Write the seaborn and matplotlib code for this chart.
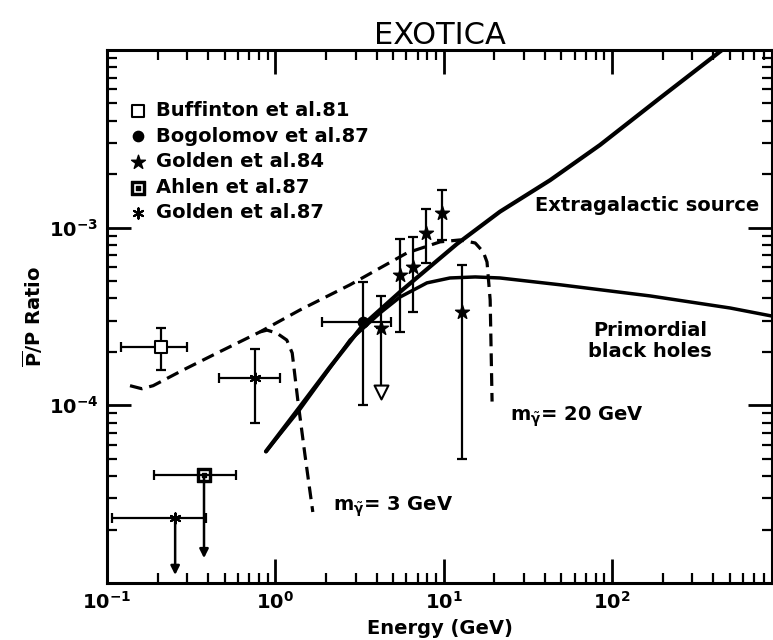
import numpy as np
import matplotlib
matplotlib.use("Agg")
import matplotlib.pyplot as plt
import seaborn as sns
from matplotlib.ticker import LogLocator, FuncFormatter, NullFormatter

# --- curves: energy (GeV) vs pbar/p ratio ---
egal_e = [0.88, 1.40, 2.11, 3.32, 5.51, 12.0, 21.6, 42.9, 84.9, 193, 451]
egal_r = [5.5e-5, 9.8e-5, 1.64e-4, 2.83e-4, 4.35e-4, 8.1e-4, 1.23e-3, 1.85e-3, 2.92e-3, 5.37e-3, 1.0e-2]

pbh_e = [0.88, 1.40, 2.78, 4.19, 5.51, 7.96, 10.9, 15.4, 21.6, 49.2, 168, 504, 893]
pbh_r = [5.5e-5, 9.5e-5, 2.33e-4, 3.31e-4, 4.07e-4, 4.89e-4, 5.21e-4, 5.28e-4, 5.21e-4,
         4.77e-4, 4.13e-4, 3.53e-4, 3.18e-4]

# photino annihilation, m = 20 GeV (dashed)
ph20_e = [0.137, 0.161, 0.188, 0.283, 0.451, 0.811, 1.40, 2.78, 6.06, 9.53, 12.5, 15.4,
          17.2, 18.1, 18.9, 19.4]
ph20_r = [1.29e-4, 1.24e-4, 1.29e-4, 1.58e-4, 1.97e-4, 2.59e-4, 3.44e-4, 4.77e-4, 7.21e-4,
          8.32e-4, 8.53e-4, 8.2e-4, 7.3e-4, 6.41e-4, 3.92e-4, 1.05e-4]
# m = 3 GeV branch (splits off the same curve)
ph3_e = [0.811, 0.893, 1.02, 1.17, 1.26, 1.36, 1.50, 1.67]
ph3_r = [2.59e-4, 2.65e-4, 2.55e-4, 2.33e-4, 1.97e-4, 1.07e-4, 5.26e-5, 2.51e-5]

# --- measurements ---
buff_e, buff_r = [0.209], [2.13e-4]
buff_elo, buff_ehi = [0.121], [0.299]
buff_rlo, buff_rhi = [1.58e-4], [2.73e-4]

bogo_e, bogo_r = [3.32], [2.94e-4]
bogo_elo, bogo_ehi = [1.89], [4.87]
bogo_rlo, bogo_rhi = [1.0e-4], [4.94e-4]

g84_e = [4.25, 5.51, 6.58, 7.86, 9.77, 12.8]
g84_r = [2.73e-4, 5.42e-4, 6.01e-4, 9.33e-4, 1.21e-3, 3.36e-4]
g84_rlo = [1.30e-4, 2.59e-4, 3.36e-4, 6.32e-4, 8.53e-4, 5.0e-5]
g84_rhi = [4.13e-4, 8.63e-4, 8.87e-4, 1.27e-3, 1.63e-3, 6.17e-4]
g84_limit_e, g84_limit_r = [4.25], [1.19e-4]

ahlen_e, ahlen_r = [0.377], [4.06e-5]
ahlen_elo, ahlen_ehi = [0.190], [0.585]
ahlen_ul = [1.38e-5]

g87_e, g87_r = [0.757], [1.43e-4]
g87_elo, g87_ehi = [0.462], [1.07]
g87_rlo, g87_rhi = [7.96e-5], [2.07e-4]
g87b_e, g87b_r = [0.254], [2.32e-5]
g87b_elo, g87b_ehi = [0.107], [0.387]
g87b_ul = [1.11e-5]

sns.set_style("ticks")
plt.rcParams['font.family'] = ['DejaVu Sans']
plt.rcParams['font.weight'] = 'bold'
plt.rcParams['axes.labelweight'] = 'bold'
plt.rcParams['mathtext.default'] = 'bf'
for key in ['text.color', 'axes.labelcolor', 'xtick.color', 'ytick.color', 'axes.edgecolor']:
    plt.rcParams[key] = 'black'

fig = plt.figure(figsize=(7.73, 6.4), dpi=100)
ax = fig.add_axes([107 / 773, 1 - 583 / 640, 665 / 773, 533 / 640])
ax.set_xscale('log')
ax.set_yscale('log')
ax.set_xlim(0.1, 893)
ax.set_ylim(1e-5, 1e-2)

k = 'black'
# theory curves
sns.lineplot(x=egal_e, y=egal_r, ax=ax, color=k, lw=3, sort=False)
sns.lineplot(x=pbh_e, y=pbh_r, ax=ax, color=k, lw=2.5, sort=False)
ax.plot(ph20_e, ph20_r, color=k, lw=2.3, dashes=(4, 2.2))
ax.plot(ph3_e, ph3_r, color=k, lw=2.3, dashes=(4, 2.2))


def xerr(c, lo, hi):
    return [np.array(c) - np.array(lo), np.array(hi) - np.array(c)]


eb = dict(fmt='none', ecolor=k, elinewidth=1.6, capsize=3.8, capthick=1.6)
ax.errorbar(buff_e, buff_r, xerr=xerr(buff_e, buff_elo, buff_ehi),
            yerr=xerr(buff_r, buff_rlo, buff_rhi), **eb)
ax.errorbar(bogo_e, bogo_r, xerr=xerr(bogo_e, bogo_elo, bogo_ehi),
            yerr=xerr(bogo_r, bogo_rlo, bogo_rhi), **eb)
ax.errorbar(g84_e[1:], g84_r[1:], yerr=xerr(g84_r[1:], g84_rlo[1:], g84_rhi[1:]), **eb)
ax.errorbar(g84_e[:1], g84_r[:1], yerr=[[0], [g84_rhi[0] - g84_r[0]]], **eb)
ax.vlines(g84_e[0], g84_limit_r[0] * 1.08, g84_r[0], color=k, lw=1.6)
ax.errorbar(g87_e, g87_r, xerr=xerr(g87_e, g87_elo, g87_ehi),
            yerr=xerr(g87_r, g87_rlo, g87_rhi), **eb)
ax.errorbar(ahlen_e, ahlen_r, xerr=xerr(ahlen_e, ahlen_elo, ahlen_ehi), **eb)
ax.errorbar(g87b_e, g87b_r, xerr=xerr(g87b_e, g87b_elo, g87b_ehi), **eb)

# upper-limit arrows
for e, r, ul in [(ahlen_e[0], ahlen_r[0], ahlen_ul[0]), (g87b_e[0], g87b_r[0], g87b_ul[0])]:
    ax.annotate('', xy=(e, ul), xytext=(e, r),
                arrowprops=dict(arrowstyle='-|>', color=k, lw=1.8, mutation_scale=13,
                                shrinkA=0, shrinkB=0))

# markers (also feed the legend)
ax.scatter(buff_e, buff_r, marker='s', s=80, facecolor='white', edgecolor=k, lw=1.5,
           zorder=5, label='Buffinton et al.81')
ax.scatter(bogo_e, bogo_r, marker='o', s=55, color=k, zorder=5, label='Bogolomov et al.87')
ax.scatter(g84_e, g84_r, marker='*', s=110, color=k, zorder=5, label='Golden et al.84')
ax.scatter(ahlen_e, ahlen_r, marker='$\\boxdot$', s=100, color=k, zorder=5,
           label='Ahlen et al.87')
ax.scatter(g87_e + g87b_e, g87_r + g87b_r, marker=(6, 2, 0), s=55, color=k, lw=1.5,
           zorder=5, label='Golden et al.87')
ax.scatter(g84_limit_e, g84_limit_r, marker='v', s=100, facecolor='white', edgecolor=k,
           lw=1.5, zorder=5)

leg = ax.legend(loc='upper left', bbox_to_anchor=(0.008, 0.93), frameon=False,
                fontsize=14, handletextpad=0.35, labelspacing=0.34, borderaxespad=0.3,
                markerscale=1.0, handlelength=1.2)

# annotations
ax.text(34.9, 1.34e-3, 'Extragalactic source', fontsize=14, ha='left', va='center')
ax.text(168, 2.3e-4, 'Primordial\nblack holes', fontsize=14, ha='center', va='center',
        linespacing=1.15)
ax.text(24.8, 8.6e-5, 'm$_{\\tilde{\\gamma}}$= 20 GeV', fontsize=14, ha='left', va='center')
ax.text(2.2, 2.68e-5, 'm$_{\\tilde{\\gamma}}$= 3 GeV', fontsize=14, ha='left', va='center')

# axes styling
for s in ax.spines.values():
    s.set_linewidth(2.2)
ax.xaxis.set_major_locator(LogLocator(base=10, numticks=10))
ax.xaxis.set_minor_locator(LogLocator(base=10, subs=np.arange(2, 10), numticks=20))
ax.yaxis.set_minor_locator(LogLocator(base=10, subs=np.arange(2, 10), numticks=20))
ax.xaxis.set_minor_formatter(NullFormatter())
ax.yaxis.set_minor_formatter(NullFormatter())
fmt = FuncFormatter(lambda v, p: '$10^{%d}$' % round(np.log10(v)))
ax.xaxis.set_major_formatter(fmt)
ax.yaxis.set_major_formatter(fmt)
ax.set_yticks([1e-4, 1e-3])
ax.tick_params(which='major', direction='in', length=17, width=2, labelsize=14,
               top=True, right=True, pad=6)
ax.tick_params(which='minor', direction='in', length=7, width=1.6, top=True, right=True)

ax.set_xlabel('Energy (GeV)', fontsize=14, labelpad=4)
ax.set_ylabel('$\\overline{\\mathbf{P}}$/P Ratio', fontsize=14, labelpad=3)
fig.text(440 / 773, 1 - 35 / 640, 'EXOTICA', fontsize=22, fontweight='normal',
         ha='center', va='center')

plt.savefig('out.png', dpi=100)
plt.close()
